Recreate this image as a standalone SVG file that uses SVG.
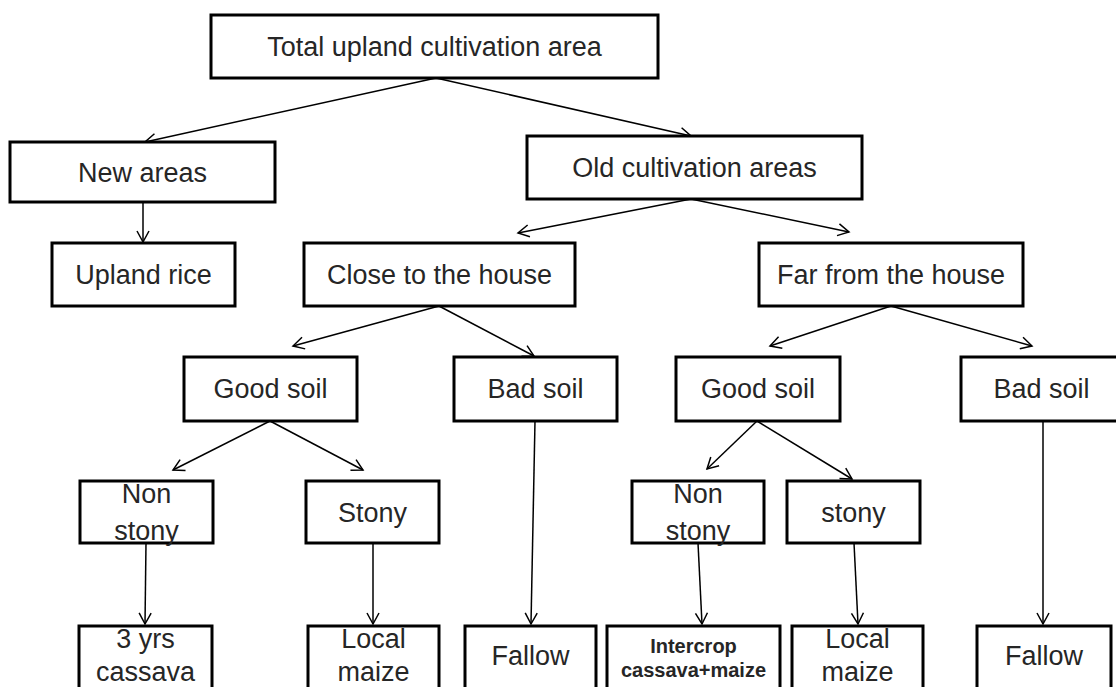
<svg xmlns="http://www.w3.org/2000/svg" width="1116" height="687" viewBox="0 0 1116 687">
<defs>
<style>
.box rect{fill:#fff;stroke:#000;stroke-width:3}
.box text{font-family:"Liberation Sans",Arial,sans-serif;font-size:27px;fill:#262626;text-anchor:middle}
.box text.b{font-weight:bold;font-size:20px}
#connectors line{stroke:#000;stroke-width:1.5;fill:none;marker-end:url(#arr)}
</style>
<marker id="arr" markerUnits="userSpaceOnUse" markerWidth="14" markerHeight="16" refX="12" refY="7" orient="auto">
<path d="M1,1 L12,7 L1,13" fill="none" stroke="#000" stroke-width="1.5"/>
</marker>
</defs>
<rect width="1116" height="687" fill="#fff"/>
<g id="connectors">
<line x1="436" y1="78" x2="145" y2="142"/>
<line x1="436" y1="78" x2="691" y2="136"/>
<line x1="143" y1="202" x2="143" y2="242"/>
<line x1="691" y1="199" x2="518" y2="233"/>
<line x1="691" y1="199" x2="849" y2="232"/>
<line x1="439" y1="306" x2="293" y2="346"/>
<line x1="439" y1="306" x2="534" y2="356"/>
<line x1="891" y1="306" x2="770" y2="346"/>
<line x1="891" y1="306" x2="1032" y2="346"/>
<line x1="270" y1="421" x2="173" y2="470"/>
<line x1="270" y1="421" x2="363" y2="470"/>
<line x1="535" y1="421" x2="531" y2="624"/>
<line x1="757" y1="421" x2="707" y2="469"/>
<line x1="757" y1="421" x2="852" y2="479"/>
<line x1="1043" y1="421" x2="1043" y2="624"/>
<line x1="146" y1="543" x2="145" y2="624"/>
<line x1="373" y1="543" x2="373" y2="624"/>
<line x1="698" y1="543" x2="702" y2="624"/>
<line x1="854" y1="543" x2="858" y2="624"/>
</g>
<g id="total" class="box"><rect x="211" y="15" width="447" height="63"/><text x="434.5" y="56">Total upland cultivation area</text></g>
<g id="new" class="box"><rect x="10" y="142" width="265" height="60"/><text x="142.5" y="182">New areas</text></g>
<g id="old" class="box"><rect x="527" y="136" width="335" height="63"/><text x="694.5" y="177">Old cultivation areas</text></g>
<g id="upland" class="box"><rect x="52" y="243" width="183" height="63"/><text x="143.5" y="284">Upland rice</text></g>
<g id="close" class="box"><rect x="304" y="243" width="271" height="63"/><text x="439.5" y="284">Close to the house</text></g>
<g id="far" class="box"><rect x="759" y="243" width="264" height="63"/><text x="891" y="284">Far from the house</text></g>
<g id="goodL" class="box"><rect x="184" y="357" width="173" height="64"/><text x="270.5" y="398">Good soil</text></g>
<g id="badL" class="box"><rect x="454" y="357" width="163" height="64"/><text x="535.5" y="398">Bad soil</text></g>
<g id="goodR" class="box"><rect x="676" y="357" width="164" height="64"/><text x="758" y="398">Good soil</text></g>
<g id="badR" class="box"><rect x="961" y="357" width="161" height="64"/><text x="1041.5" y="398">Bad soil</text></g>
<g id="nonstonyL" class="box"><rect x="80" y="481" width="133" height="62"/><text x="146.5" y="503">Non</text><text x="146.5" y="540">stony</text></g>
<g id="stonyL" class="box"><rect x="306" y="481" width="133" height="62"/><text x="372.5" y="522">Stony</text></g>
<g id="nonstonyR" class="box"><rect x="632" y="481" width="132" height="62"/><text x="698" y="503">Non</text><text x="698" y="540">stony</text></g>
<g id="stonyR" class="box"><rect x="787" y="481" width="133" height="62"/><text x="853.5" y="522">stony</text></g>
<g id="cassava" class="box"><rect x="79" y="626" width="133" height="80"/><text x="145.5" y="648">3 yrs</text><text x="145.5" y="681">cassava</text></g>
<g id="localL" class="box"><rect x="308" y="626" width="131" height="80"/><text x="373.5" y="648">Local</text><text x="373.5" y="681">maize</text></g>
<g id="fallowL" class="box"><rect x="465" y="626" width="131" height="80"/><text x="530.5" y="665">Fallow</text></g>
<g id="intercrop" class="box"><rect x="607" y="626" width="173" height="80"/><text class="b" x="693.5" y="653">Intercrop</text><text class="b" x="693.5" y="677">cassava+maize</text></g>
<g id="localR" class="box"><rect x="792" y="626" width="131" height="80"/><text x="857.5" y="648">Local</text><text x="857.5" y="681">maize</text></g>
<g id="fallowR" class="box"><rect x="977" y="626" width="134" height="80"/><text x="1044" y="665">Fallow</text></g>
</svg>
